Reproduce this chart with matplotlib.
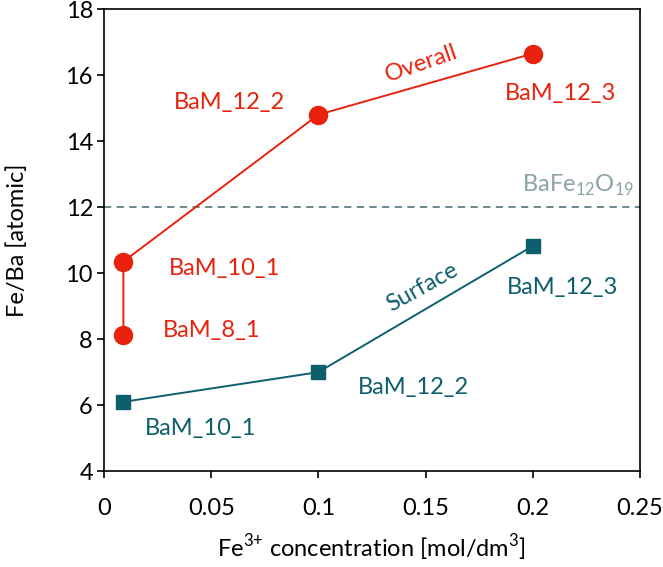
import matplotlib
matplotlib.use("Agg")
import matplotlib.pyplot as plt

# data
overall_x = [0.009, 0.009, 0.1, 0.2]
overall_y = [8.13, 10.35, 14.8, 16.65]
surface_x = [0.009, 0.1, 0.2]
surface_y = [6.1, 7.0, 10.82]
stoich_y = 12

x_ticks = [0, 0.05, 0.1, 0.15, 0.2, 0.25]
x_tick_labels = ["0", "0.05", "0.1", "0.15", "0.2", "0.25"]
y_ticks = [4, 6, 8, 10, 12, 14, 16, 18]

red = "#e8220d"
teal = "#0e5f6d"

plt.rcParams['font.family'] = ['Lato', 'DejaVu Sans']
plt.rcParams['mathtext.fontset'] = 'custom'
plt.rcParams['mathtext.rm'] = 'Lato'

fig = plt.figure(figsize=(6.63, 5.67), dpi=100)
ax = fig.add_axes([0.157, 0.169, 0.808, 0.815])

ax.axhline(stoich_y, color="#5f7d83", lw=1.3, ls=(0, (4, 3)), zorder=1)
ax.plot(overall_x, overall_y, color=red, lw=1.4, marker="o", ms=13, zorder=3)
ax.plot(surface_x, surface_y, color=teal, lw=1.4, marker="s", ms=10, zorder=3)

fs = 17
# red labels
ax.text(0.0583, 15.18, "BaM_12_2", color=red, fontsize=fs, ha="center", va="center")
ax.text(0.213, 15.45, "BaM_12_3", color=red, fontsize=fs, ha="center", va="center")
ax.text(0.056, 10.15, "BaM_10_1", color=red, fontsize=fs, ha="center", va="center")
ax.text(0.050, 8.27, "BaM_8_1", color=red, fontsize=fs, ha="center", va="center")
ax.text(0.148, 16.36, "Overall", color=red, fontsize=fs, ha="center", va="center", rotation=19)

# teal labels
ax.text(0.214, 9.55, "BaM_12_3", color=teal, fontsize=fs, ha="center", va="center")
ax.text(0.1445, 6.52, "BaM_12_2", color=teal, fontsize=fs, ha="center", va="center")
ax.text(0.0448, 5.3, "BaM_10_1", color=teal, fontsize=fs, ha="center", va="center")
ax.text(0.1487, 9.58, "Surface", color=teal, fontsize=fs, ha="center", va="center", rotation=29)

ax.text(0.2476, 12.67, r"BaFe$_{12}$O$_{19}$", color="#8aa3a6", fontsize=fs, ha="right", va="center")

ax.set_xlim(0, 0.25)
ax.set_ylim(4, 18)
ax.set_xticks(x_ticks)
ax.set_xticklabels(x_tick_labels)
ax.set_yticks(y_ticks)
ax.tick_params(labelsize=fs, direction="out", length=5, width=1.2)
ax.tick_params(axis="x", pad=14)
ax.tick_params(axis="y", pad=3)
for s in ax.spines.values():
    s.set_linewidth(1.2)

ax.set_xlabel(r"Fe$^{3{+}}$ concentration [mol/dm$^{3}$]", fontsize=fs, labelpad=10)
ax.set_ylabel("Fe/Ba [atomic]", fontsize=fs, labelpad=27)

fig.savefig("out.png", dpi=100)
